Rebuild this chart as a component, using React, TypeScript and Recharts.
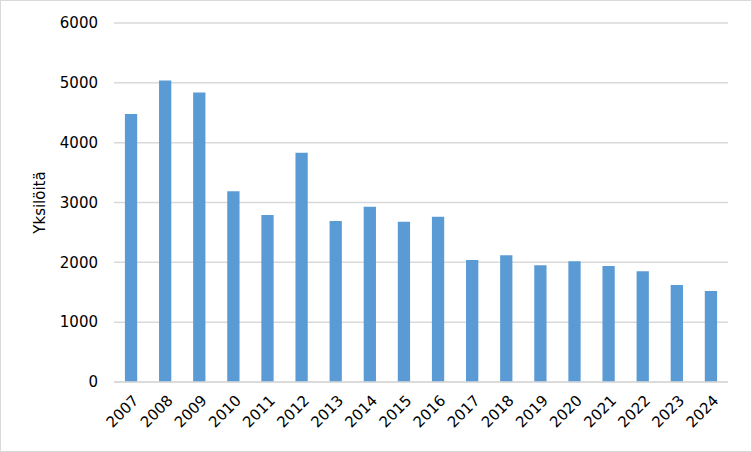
import React from 'react';
import { BarChart, Bar, XAxis, YAxis, CartesianGrid } from 'recharts';

const years = ['2007', '2008', '2009', '2010', '2011', '2012', '2013', '2014', '2015', '2016', '2017', '2018', '2019', '2020', '2021', '2022', '2023', '2024'];
const counts = [4480, 5040, 4840, 3190, 2790, 3830, 2690, 2930, 2680, 2760, 2040, 2120, 1950, 2020, 1940, 1850, 1620, 1520];
const yTicks = [0, 1000, 2000, 3000, 4000, 5000, 6000];

const data = years.map((year, i) => ({ year, value: counts[i] }));

const FONT = '"DejaVu Sans", Verdana, sans-serif';

// vinot vuosiluvut x-akselilla
const YearTick = ({ x, y, payload }: any) => (
  <text
    x={x + 5}
    y={y + 8}
    transform={`rotate(-45, ${x + 5}, ${y + 8})`}
    textAnchor="end"
    dominantBaseline="central"
    fontSize={15}
    fontFamily={FONT}
    fill="#000"
  >
    {payload.value}
  </text>
);

const App: React.FC = () => {
  return (
    <div
      style={{
        position: 'absolute',
        left: 0,
        top: 0,
        width: 752,
        height: 452,
        border: '1px solid #d9d9d9',
        boxSizing: 'border-box',
        background: '#fff',
      }}
    >
      <div style={{ position: 'absolute', left: -1, top: -1 }}>
        <BarChart
          width={752}
          height={452}
          data={data}
          barCategoryGap="68%"
          margin={{ top: 23, right: 24, left: 54, bottom: 0 }}
        >
          <CartesianGrid vertical={false} stroke="#d9d9d9" strokeWidth={1.5} />
          <XAxis
            dataKey="year"
            height={70}
            axisLine={{ stroke: '#d9d9d9', strokeWidth: 1.5 }}
            tickLine={false}
            interval={0}
            tick={<YearTick />}
          />
          <YAxis
            width={60}
            domain={[0, 6000]}
            ticks={yTicks}
            axisLine={false}
            tickLine={false}
            tickSize={0}
            tickMargin={16}
            tick={{ fontSize: 15, fontFamily: FONT, fill: '#000' }}
            label={{
              value: 'Yksilöitä',
              angle: -90,
              position: 'insideLeft',
              offset: -14,
              style: { fontSize: 15, fontFamily: FONT, fill: '#000', textAnchor: 'middle' },
            }}
          />
          <Bar dataKey="value" fill="#5b9bd5" isAnimationActive={false} />
        </BarChart>
      </div>
    </div>
  );
};

export default App;
